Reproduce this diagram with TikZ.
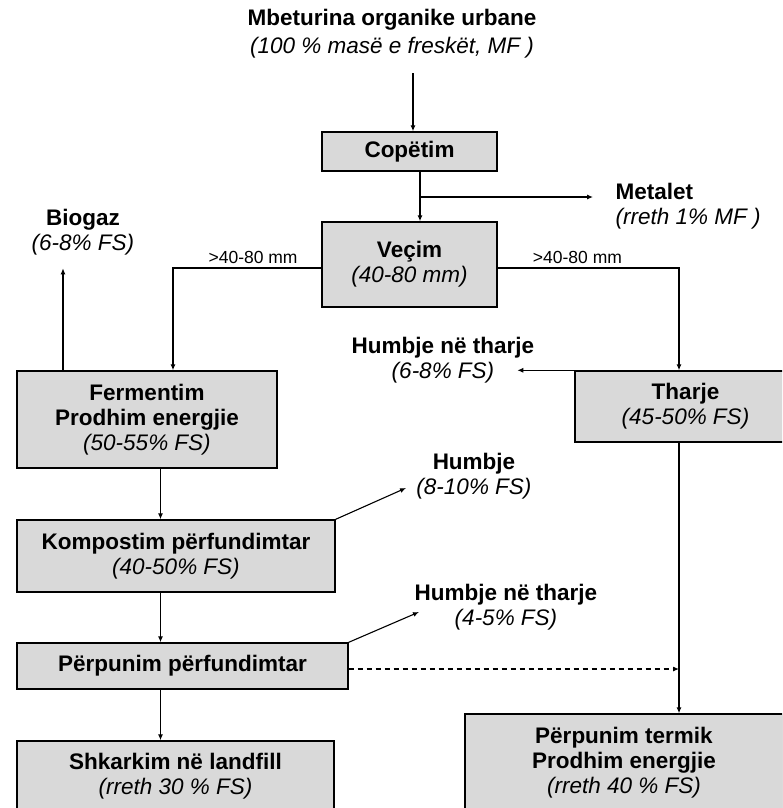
\documentclass[tikz,border=0pt]{standalone}
\usepackage{fontspec}
\setmainfont{Liberation Sans}
\usetikzlibrary{arrows.meta, calc}
\newcommand{\madh}{\fontsize{22.5}{25}\selectfont}
\newcommand{\sasi}[1]{{\normalfont\itshape #1}}

\begin{document}
\begin{tikzpicture}[x=1pt, y=-1pt,
    kuti/.style={draw, line width=1.4pt, fill=black!15, align=center,
                 font=\madh\bfseries, inner sep=0pt},
    etiketa/.style={align=center, font=\madh\bfseries},
    masa/.style={font=\fontsize{17.5}{20}\selectfont},
    shigjete/.style={-{Latex[length=6pt,width=5pt]}, line width=1.1pt}]

      \useasboundingbox (0,0) rectangle (782,808);
      \clip (0,0) rectangle (782,808);

      \node[etiketa] (titulli) at (392,34) {Mbeturina organike urbane\\[3pt]\sasi{(100 \% masë e freskët, MF )}};
      \node[kuti, minimum width=175pt, minimum height=39pt] (copetim) at (409.5,151.5) {Copëtim};
      \node[kuti, minimum width=175pt, minimum height=85pt] (vecim) at (409.5,264.5) {Veçim\\\sasi{(40-80 mm)}};
      \node[kuti, minimum width=260pt, minimum height=97pt] (ferm) at (147,419.5) {Fermentim\\Prodhim energjie\\\sasi{(50-55\% FS)}};
      \node[kuti, minimum width=221pt, minimum height=71pt] (tharje) at (685.5,406.5) {Tharje\\\sasi{(45-50\% FS)}};
      \node[kuti, minimum width=318pt, minimum height=72pt] (kompost) at (176,556) {Kompostim përfundimtar\\\sasi{(40-50\% FS)}};
      \node[kuti, minimum width=331pt, minimum height=46pt] (perpunim) at (182.5,666) {Përpunim përfundimtar};
      \node[kuti, minimum width=317pt, minimum height=71pt] (shkarkim) at (175.5,776.5) {Shkarkim në landfill\\\sasi{(rreth 30 \% FS)}};
      \node[kuti, minimum width=318pt, minimum height=98pt] (termik) at (624,763) {Përpunim termik\\Prodhim energjie\\\sasi{(rreth 40 \% FS)}};

      \node[etiketa, anchor=west, align=left] (metalet) at (612,206) {Metalet\\\sasi{(rreth 1\% MF )}};
      \node[etiketa] (biogaz) at (83,232) {Biogaz\\\sasi{(6-8\% FS)}};
      \node[etiketa] (humbjeA) at (443,360) {Humbje në tharje\\\sasi{(6-8\% FS)}};
      \node[etiketa] (humbjeB) at (474,476) {Humbje\\\sasi{(8-10\% FS)}};
      \node[etiketa] (humbjeC) at (506,607) {Humbje në tharje\\\sasi{(4-5\% FS)}};

      \coordinate (mx) at (160.5,0);
      \coordinate (fx) at (173,0);
      \coordinate (dx) at (679,0);
      \coordinate (bx) at (63,0);
      \coordinate (t) at (413,73);
      \coordinate (ndarje) at (420,197);
      \coordinate (hb) at (406,488);
      \coordinate (hc) at (419,612);

      \draw[shigjete] (t) -- (t |- copetim.north);
      \draw[shigjete] ([xshift=10.5pt]copetim.south) -- ([xshift=10.5pt]vecim.north);
      \draw[shigjete] (ndarje) -- ($(ndarje -| metalet.west)+(-19,0)$);

      \draw[shigjete] ([yshift=-3.5pt]vecim.west) -| (ferm.north -| fx)
            node[pos=0.23, above, masa] {>40-80 mm};
      \draw[shigjete] ([yshift=-3.5pt]vecim.east) -| (tharje.north -| dx)
            node[pos=0.22, above, masa] {>40-80 mm};

      \draw[shigjete] (ferm.north -| bx) -- ++(0,-102);
      \draw[shigjete] (tharje.north west) -- ($(tharje.north west)+(-57,0)$);

      \draw[shigjete] (ferm.south -| mx) -- (kompost.north -| mx);
      \draw[shigjete] (kompost.south -| mx) -- (perpunim.north -| mx);
      \draw[shigjete] (perpunim.south -| mx) -- (shkarkim.north -| mx);
      \draw[shigjete] (kompost.north east) -- (hb);
      \draw[shigjete] (perpunim.north east) -- (hc);

      \draw[shigjete] (tharje.south -| dx) -- (termik.north -| dx);
      \draw[shigjete, dash pattern=on 5pt off 4pt] ([yshift=-3pt]perpunim.east) -- ([yshift=-3pt]perpunim.east -| dx);
    \end{tikzpicture}
\end{document}
